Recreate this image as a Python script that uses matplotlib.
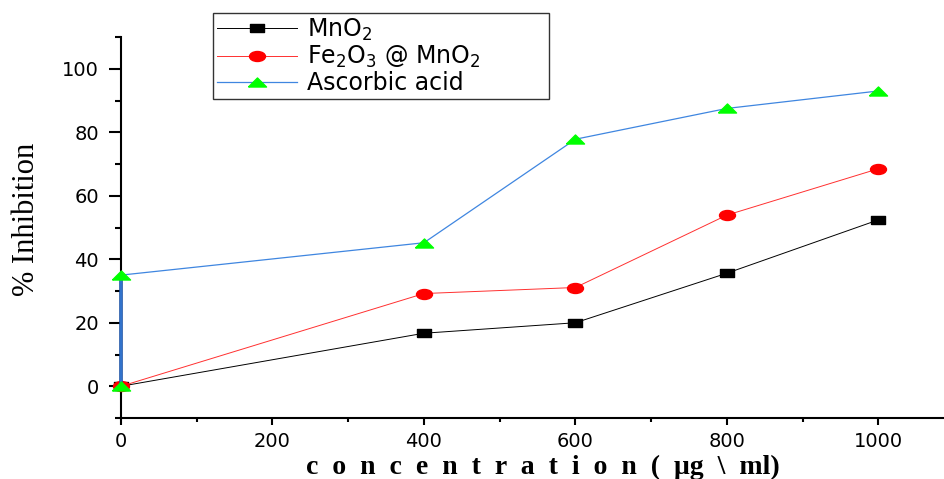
import matplotlib
matplotlib.use("Agg")
import matplotlib.pyplot as plt
import numpy as np
from matplotlib.path import Path
from matplotlib.transforms import Affine2D

# data
conc = [0, 400, 600, 800, 1000]
mno2 = [0, 16.7, 20.0, 35.6, 52.4]
fe_mno2 = [0, 29.2, 31.1, 53.9, 68.5]
asc_conc = [0, 0, 400, 600, 800, 1000]
asc = [0, 35.0, 45.2, 77.8, 87.5, 93.0]

labels = ['MnO$_2$', 'Fe$_2$O$_3$ @ MnO$_2$', 'Ascorbic acid']
xticks = [0, 200, 400, 600, 800, 1000]
yticks = [0, 20, 40, 60, 80, 100]

plt.rcParams['mathtext.default'] = 'regular'
plt.rcParams['font.family'] = 'DejaVu Sans'

# wide markers (the original picture is stretched sideways)
sq = Path([(-1.5, -1), (1.5, -1), (1.5, 1), (-1.5, 1), (-1.5, -1)])
ell = Path.unit_circle().transformed(Affine2D().scale(1.6, 1.0))
tri = Path([(-1, -0.5), (1, -0.5), (0, 0.5), (-1, -0.5)])

fig = plt.figure(figsize=(9.45, 4.79), dpi=100)
ax = fig.add_axes([121/945, 61/479, 824/945, 381/479])

ax.plot(conc, mno2, color='black', lw=0.7, marker=sq, ms=9.4,
        mfc='black', mec='black', label=labels[0], zorder=3, clip_on=False)
ax.plot(conc, fe_mno2, color='#ff3030', lw=0.7, marker=ell, ms=11.5,
        mfc='red', mec='red', label=labels[1], zorder=3, clip_on=False)
ax.plot(asc_conc, asc, color='#3f86e0', lw=0.9, marker=tri, ms=13,
        mfc='#00ff00', mec='#00ff00', label=labels[2], zorder=4, clip_on=False)
# the vertical rise at x=0 shows thick and dark on top of the axis line
ax.plot(asc_conc[:2], asc[:2], color='#1d55a8', lw=2.6, zorder=3.5, clip_on=False)

ax.set_xlim(0, 1088)
ax.set_ylim(-10, 110)
ax.set_xticks(xticks)
ax.set_xticks(np.arange(100, 1001, 200), minor=True)
ax.set_yticks(yticks)
ax.set_yticks([-10, 10, 30, 50, 70, 90, 110], minor=True)

for s in ['top', 'right']:
    ax.spines[s].set_visible(False)
for s in ['left', 'bottom']:
    ax.spines[s].set_linewidth(1.5)

ax.tick_params(axis='x', which='major', direction='out', length=5, width=1.5, labelsize=14, pad=5)
ax.tick_params(axis='x', which='minor', direction='out', length=3, width=1.5)
ax.tick_params(axis='y', which='major', direction='out', length=9, width=1.5, labelsize=14, pad=7)
ax.tick_params(axis='y', which='minor', direction='out', length=4.5, width=1.5)

fig.text(27/945, 1 - 219/479, '% Inhibition', rotation=90,
         family='Liberation Serif', fontsize=22, ha='center', va='center')
xlab = '  '.join('concentration') + '  (  \u03bcg  \\  ml)'
fig.text(543/945, 1 - 467/479, xlab,
         family='Liberation Serif', fontweight='bold', fontsize=20,
         ha='center', va='center')

leg = ax.legend(loc='upper left',
                bbox_to_anchor=(213/945, 1 - 97/479, 336/945, 84/479),
                bbox_transform=fig.transFigure, mode='expand', fontsize=17,
                frameon=True, fancybox=False, borderaxespad=0, handlelength=3.4,
                handletextpad=0.45, labelspacing=0.05, borderpad=0.15)
leg.get_frame().set_edgecolor('black')
leg.get_frame().set_linewidth(1.0)

fig.savefig('out.png', dpi=100)
